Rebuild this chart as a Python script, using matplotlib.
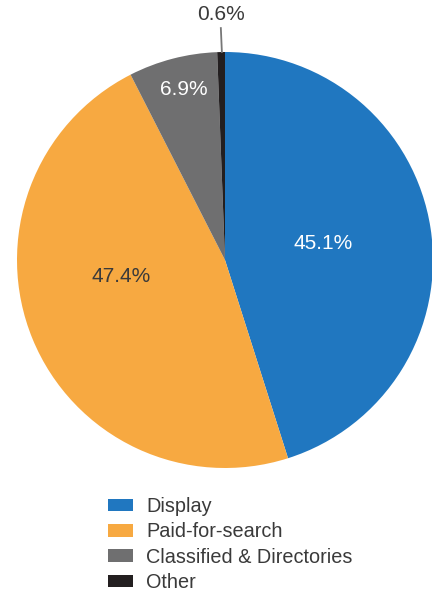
import matplotlib.pyplot as plt

# share of ad spend
labels = ["Display", "Paid-for-search", "Classified & Directories", "Other"]
shares = [45.1, 47.4, 6.9, 0.6]
colors = ["#2077c0", "#f7a941", "#6f6f70", "#231f20"]
pct_text = ["45.1%", "47.4%", "6.9%", "0.6%"]

plt.rcParams['font.family'] = ['Liberation Sans', 'DejaVu Sans']

fig = plt.figure(figsize=(4.32, 5.92), dpi=100)
ax = fig.add_axes([17/432, 124/592, 416/432, 416/592])

wedges, _ = ax.pie(shares, colors=colors, startangle=90, counterclock=False,
                   wedgeprops=dict(linewidth=0))
ax.set_aspect('equal')
ax.set_xlim(-1, 1)
ax.set_ylim(-1, 1)

# label placement (hand tuned like the original)
ax.text(0.47, 0.077, pct_text[0], color="white", fontsize=15, ha="center", va="center")
ax.text(-0.5, -0.077, pct_text[1], color="#3a3a3a", fontsize=15, ha="center", va="center")
ax.text(-0.2, 0.82, pct_text[2], color="white", fontsize=15, ha="center", va="center")
ax.text(-0.02, 1.18, pct_text[3], color="#3a3a3a", fontsize=15, ha="center", va="center", clip_on=False)
ax.plot([-0.015, -0.02], [1.0, 1.115], color="#777777", linewidth=1.3, clip_on=False)

leg = fig.legend(wedges, labels, loc="upper left", bbox_to_anchor=(108/432, 1 - 497/592),
                 frameon=False, fontsize=14.3, handlelength=1.26, handleheight=0.6,
                 handletextpad=0.66, labelspacing=0.32, borderpad=0, borderaxespad=0)
for t in leg.get_texts():
    t.set_color("#3a3a3a")

plt.savefig("out.png", dpi=100)
